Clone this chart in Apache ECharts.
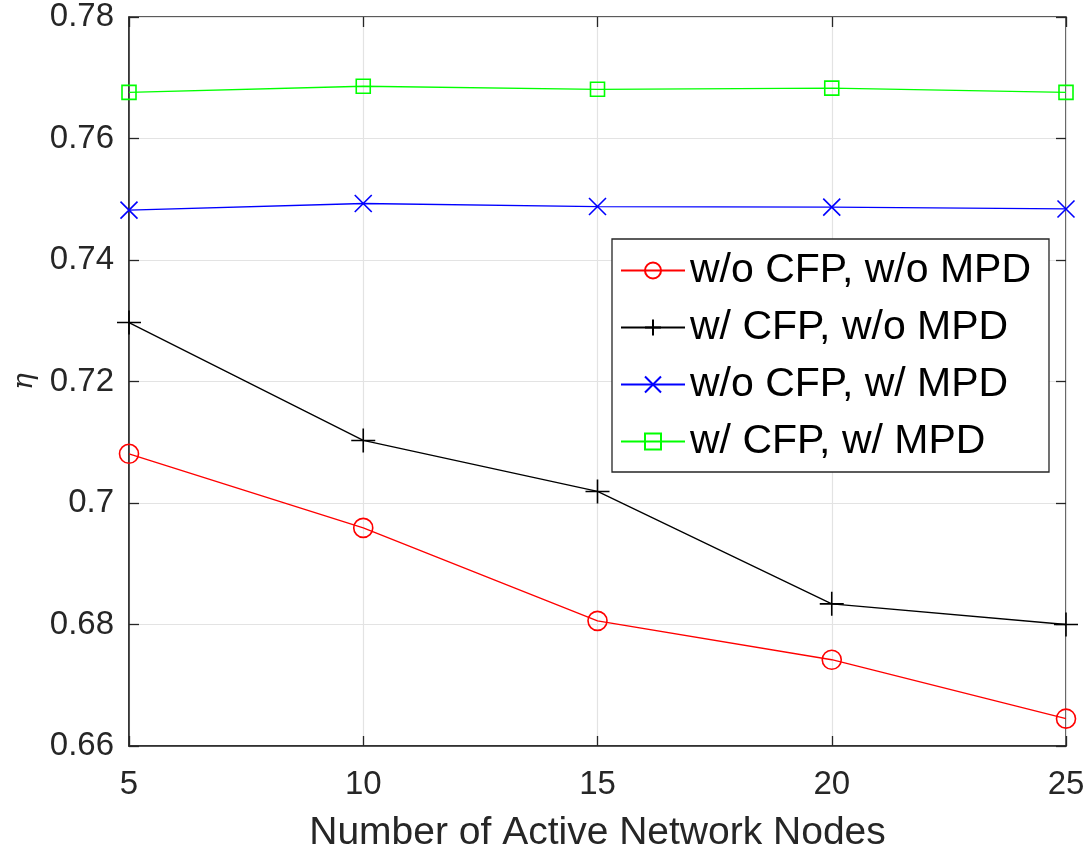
<!DOCTYPE html>
<html><head><meta charset="utf-8">
<script src="https://cdn.jsdelivr.net/npm/echarts@6/dist/echarts.min.js"></script>
<style>html,body{margin:0;padding:0;background:#fff}#c{width:1088px;height:857px}</style>
</head><body><div id="c"></div>
<script>
const nodes = [5, 10, 15, 20, 25];
const yTicks = [0.66, 0.68, 0.7, 0.72, 0.74, 0.76, 0.78];
const seriesNames = ['w/o CFP, w/o MPD', 'w/ CFP, w/o MPD', 'w/o CFP, w/ MPD', 'w/ CFP, w/ MPD'];
const noCfpNoMpd = [0.7081, 0.6959, 0.6806, 0.6742, 0.6645];
const cfpNoMpd = [0.7297, 0.7103, 0.7019, 0.6834, 0.6800];
const noCfpMpd = [0.7482, 0.7493, 0.7488, 0.7487, 0.7484];
const cfpMpd = [0.7676, 0.7686, 0.7681, 0.7683, 0.7676];

const font = '"Liberation Sans", Arial, Helvetica, sans-serif';
const axisColor = '#262626';
function pairs(arr){ return nodes.map((x,i)=>[x, arr[i]]); }
function mk(name, data, color, symbol, size, filled){
  return {
    name, type:'line', data: pairs(data), symbol, symbolSize: size,
    showSymbol:true,
    lineStyle:{color, width:1.3},
    itemStyle: filled ? {color, borderColor:color, borderWidth:1.6} : {color:'rgba(0,0,0,0)', borderColor:color, borderWidth:1.6},
    color: color,
    z: 3
  };
}
const chart = echarts.init(document.getElementById('c'), null, {renderer:'canvas'});
const xAxisBase = {type:'value', min:5, max:25, interval:5};
const yAxisBase = {type:'value', min:0.66, max:0.78, interval:0.02};
chart.setOption({
  animation:false,
  backgroundColor:'#fff',
  grid:{left:129, right:22, top:17, bottom:111, show:true, borderColor:axisColor, borderWidth:1.5, backgroundColor:'transparent', outerBoundsMode:'none', containLabel:false},
  legend:{
    data: seriesNames,
    orient:'vertical', left:612, top:239,
    itemWidth:64, itemHeight:20, itemGap:16,
    padding:[11,18,10,8],
    backgroundColor:'#fff', borderColor:axisColor, borderWidth:1.3,
    textStyle:{fontFamily:font, fontSize:41, lineHeight:40, color:'#000'}
  },
  xAxis:[
    Object.assign({}, xAxisBase, {
      position:'bottom',
      name:'Number of Active Network Nodes', nameLocation:'middle', nameGap:68,
      nameTextStyle:{fontFamily:font, fontSize:39, color:axisColor},
      axisLine:{show:true, lineStyle:{color:axisColor, width:1.5}},
      axisTick:{show:true, inside:true, length:10, lineStyle:{color:axisColor, width:1.3}},
      axisLabel:{fontFamily:font, fontSize:33, color:axisColor, margin:22, formatter: v => String(v)},
      splitLine:{show:true, lineStyle:{color:'#e3e3e3', width:1.2}}
    }),
    Object.assign({}, xAxisBase, {
      position:'top',
      axisLine:{show:false}, axisLabel:{show:false}, splitLine:{show:false},
      axisTick:{show:true, inside:true, length:10, lineStyle:{color:axisColor, width:1.3}}
    })
  ],
  yAxis:[
    Object.assign({}, yAxisBase, {
      position:'left',
      name:'η', nameLocation:'middle', nameGap:90, nameRotate:90,
      nameTextStyle:{fontFamily:'"DejaVu Serif", serif', fontStyle:'italic', fontSize:28, color:axisColor},
      axisLine:{show:true, lineStyle:{color:axisColor, width:1.5}},
      axisTick:{show:true, inside:true, length:10, lineStyle:{color:axisColor, width:1.3}},
      axisLabel:{fontFamily:font, fontSize:33, color:axisColor, margin:15,
        formatter: v => { const t = yTicks.find(y => Math.abs(y - v) < 1e-9); return t === undefined ? '' : String(t); }},
      splitLine:{show:true, lineStyle:{color:'#e3e3e3', width:1.2}}
    }),
    Object.assign({}, yAxisBase, {
      position:'right',
      axisLine:{show:false}, axisLabel:{show:false}, splitLine:{show:false},
      axisTick:{show:true, inside:true, length:10, lineStyle:{color:axisColor, width:1.3}}
    })
  ],
  series:[
    mk(seriesNames[0], noCfpNoMpd, '#ff0000', 'circle', 19, false),
    mk(seriesNames[1], cfpNoMpd, '#000000', 'path://M10,0L10,20M0,10L20,10', 24, true),
    mk(seriesNames[2], noCfpMpd, '#0000ff', 'path://M0,0L20,20M20,0L0,20', 17, true),
    mk(seriesNames[3], cfpMpd, '#00ff00', 'rect', 14, false)
  ]
});
</script></body></html>
